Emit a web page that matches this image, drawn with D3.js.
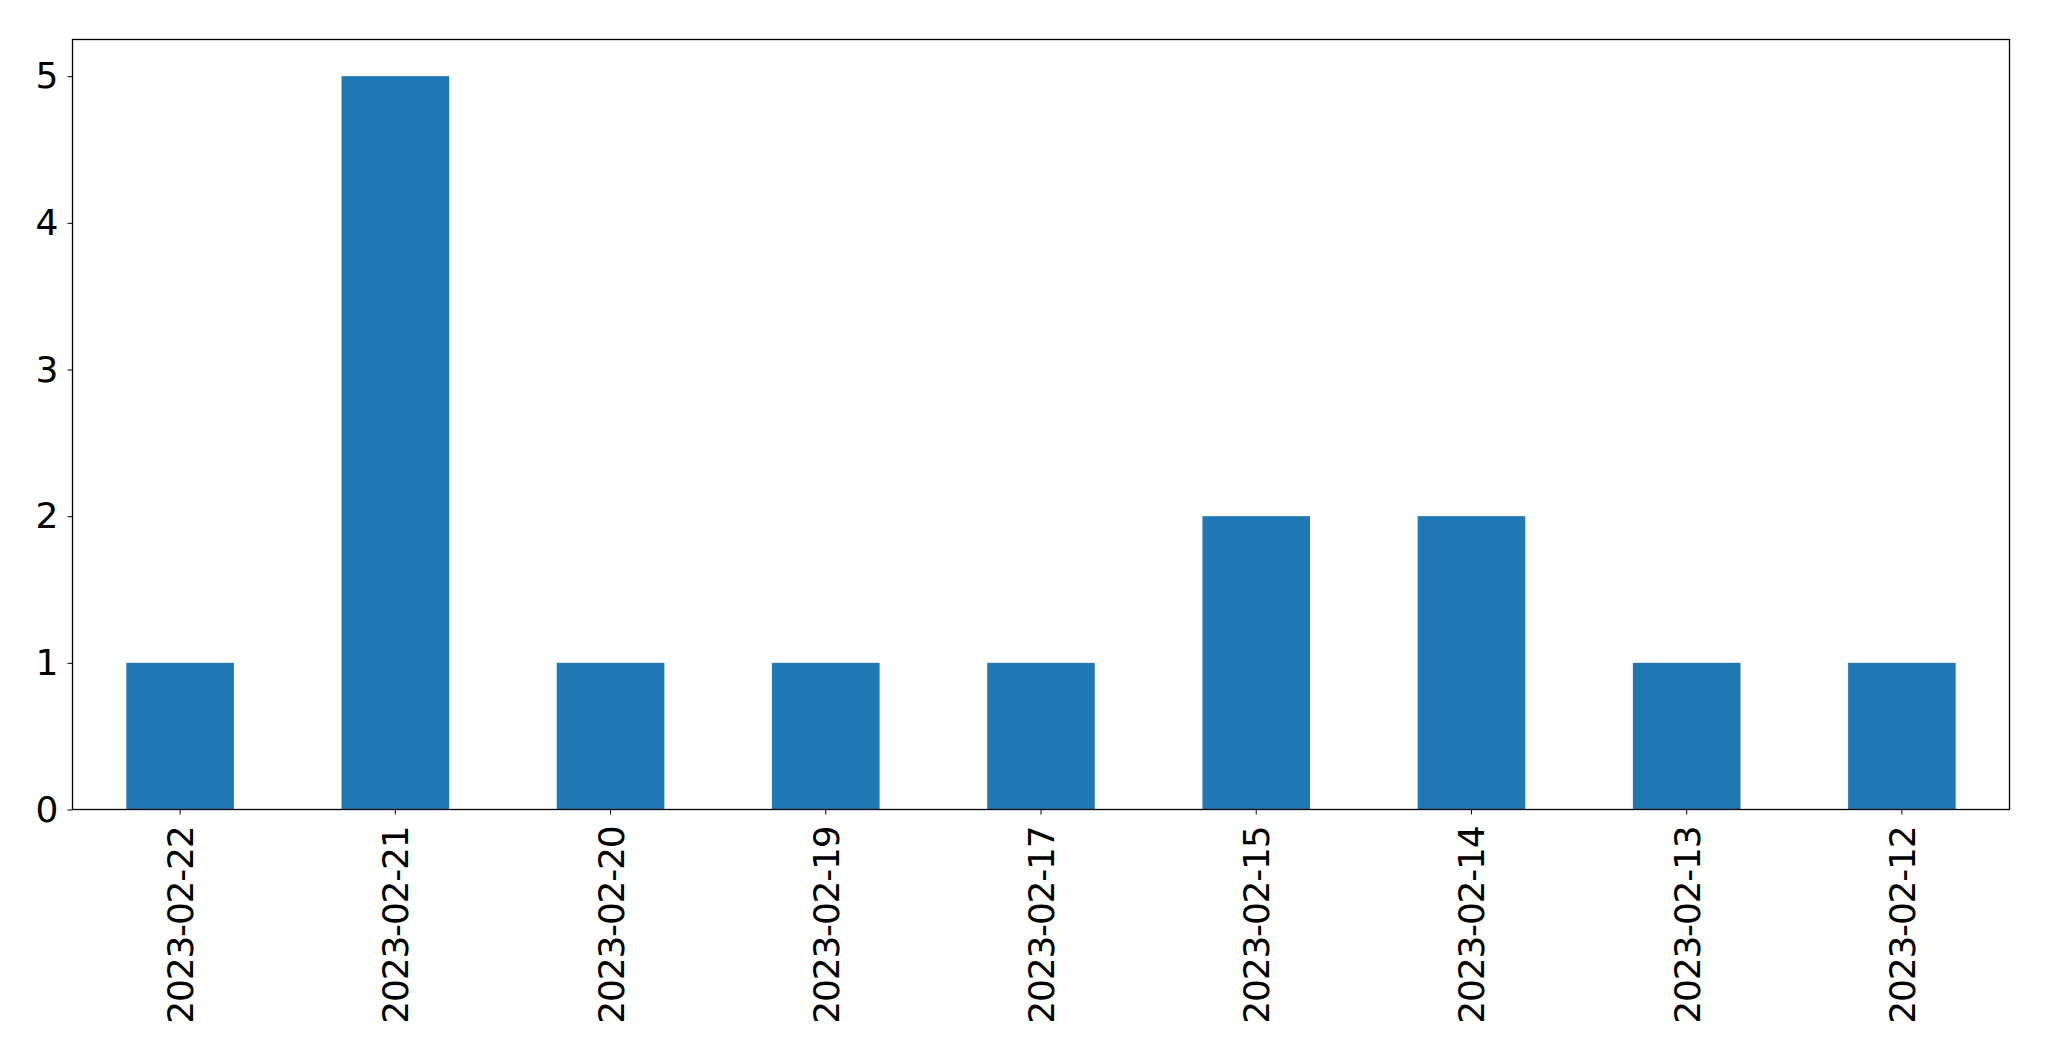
<!DOCTYPE html>
<html>
<head>
<meta charset="utf-8">
<script src="https://cdn.jsdelivr.net/npm/d3@7"></script>
<style>
  body { margin: 0; background: #fff; }
  svg text { font-family: "DejaVu Sans", sans-serif; }
</style>
</head>
<body>
<svg></svg>
<script>
var dates = ['2023-02-22', '2023-02-21', '2023-02-20', '2023-02-19', '2023-02-17',
    '2023-02-15', '2023-02-14', '2023-02-13', '2023-02-12'];
var counts = [1, 5, 1, 1, 1, 2, 2, 1, 1];
var yTicks = [0, 1, 2, 3, 4, 5];

var W = 2049, H = 1061;
var m = { left: 72.5, right: 2009.5, top: 39.5, bottom: 809.5 };

var svg = d3.select('svg')
    .attr('width', W)
    .attr('height', H);

var x = d3.scaleBand()
    .domain(dates)
    .range([m.left, m.right])
    .paddingInner(0.5)
    .paddingOuter(0.25);

var y = d3.scaleLinear()
    .domain([0, 5.25])
    .range([m.bottom, m.top]);

svg.append('g')
    .selectAll('rect')
    .data(counts)
    .join('rect')
    .attr('x', function (d, i) { return x(dates[i]); })
    .attr('y', function (d) { return y(d); })
    .attr('width', x.bandwidth())
    .attr('height', function (d) { return y(0) - y(d); })
    .attr('fill', '#1f77b4');

var yAxis = svg.append('g')
    .attr('transform', 'translate(' + m.left + ',0)')
    .call(d3.axisLeft(y).tickValues(yTicks).tickSize(5).tickPadding(9).tickFormat(d3.format('d')));
yAxis.select('.domain').remove();
yAxis.selectAll('text')
    .style('font-size', '36px')
    .attr('fill', '#000');

var xAxis = svg.append('g')
    .attr('transform', 'translate(0,' + m.bottom + ')')
    .call(d3.axisBottom(x).tickSize(5));
xAxis.select('.domain').remove();
xAxis.selectAll('text')
    .style('font-size', '36px')
    .style('letter-spacing', '-1.2px')
    .attr('fill', '#000')
    .attr('text-anchor', 'end')
    .attr('transform', 'rotate(-90)')
    .attr('x', -17)
    .attr('y', 0)
    .attr('dy', '0.36em');

svg.append('rect')
    .attr('x', m.left)
    .attr('y', m.top)
    .attr('width', m.right - m.left)
    .attr('height', m.bottom - m.top)
    .attr('fill', 'none')
    .attr('stroke', '#000')
    .attr('stroke-width', 1.3);
</script>
</body>
</html>
